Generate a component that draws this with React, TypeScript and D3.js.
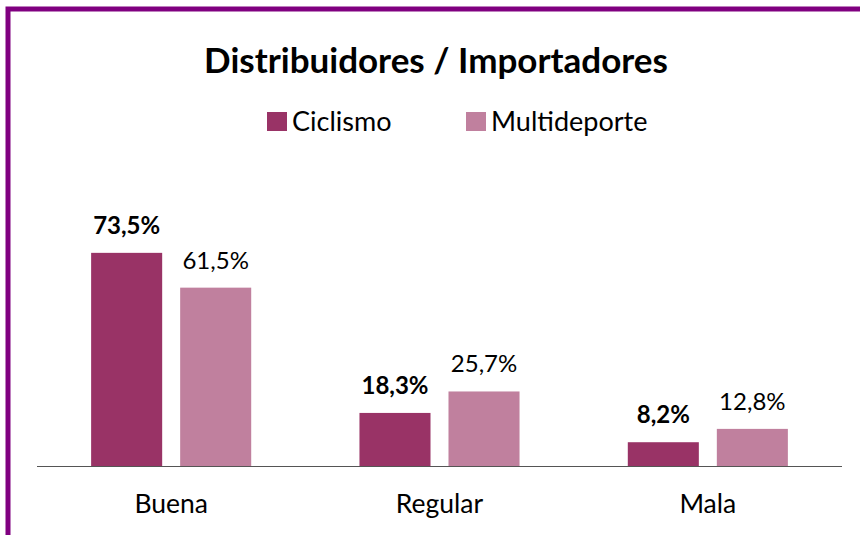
import React from "react";
import * as d3 from "d3";

const categories = ["Buena", "Regular", "Mala"];
const seriesNames = ["Ciclismo", "Multideporte"];
const ciclismo = [73.5, 18.3, 8.2];
const multideporte = [61.5, 25.7, 12.8];
const colors = ["#993366", "#C0809E"];

const W = 860;
const H = 535;
const FONT = "Lato, 'Open Sans', sans-serif";

export default function App() {
  const x0 = d3.scaleBand<string>().domain(categories).range([37, 842]).paddingInner(0).paddingOuter(0);
  const x1 = d3
    .scaleBand<string>()
    .domain(seriesNames)
    .range([0, x0.bandwidth()])
    .paddingInner(0.202)
    .paddingOuter(0.608);
  const y = d3.scaleLinear().domain([0, 100]).range([466, 176]);
  const series = [ciclismo, multideporte];
  const fmt = (v: number) => v.toFixed(1).replace(".", ",") + "%";

  return (
    <svg
      width={W}
      height={H}
      style={{ position: "absolute", left: 0, top: 0, background: "#fff" }}
    >
      <rect x={8} y={9} width={W + 20} height={H + 20} fill="none" stroke="#800080" strokeWidth={5} />
      <text x={436} y={73} textAnchor="middle" fontFamily={FONT} fontWeight={700} fontSize={35} fill="#000">
        Distribuidores / Importadores
      </text>
      {seriesNames.map((s, i) => {
        const lx = i === 0 ? 267 : 466;
        return (
          <g key={s}>
            <rect x={lx} y={112} width={20} height={19} fill={colors[i]} />
            <text x={lx + 25} y={131} fontFamily={FONT} fontSize={27} fill="#000">
              {s}
            </text>
          </g>
        );
      })}
      {categories.map((c, ci) => (
        <g key={c} transform={`translate(${x0(c)},0)`}>
          {seriesNames.map((s, si) => {
            const v = series[si][ci];
            const bx = x1(s)!;
            return (
              <g key={s}>
                <rect x={bx} y={y(v)} width={x1.bandwidth()} height={y(0) - y(v)} fill={colors[si]} />
                <text
                  x={bx + x1.bandwidth() / 2}
                  y={y(v) - 19}
                  textAnchor="middle"
                  fontFamily={FONT}
                  fontWeight={si === 0 ? 700 : 400}
                  fontSize={24}
                  fill="#000"
                >
                  {fmt(v)}
                </text>
              </g>
            );
          })}
          <text
            x={x0.bandwidth() / 2}
            y={513}
            textAnchor="middle"
            fontFamily={FONT}
            fontSize={26.5}
            fill="#000"
          >
            {c}
          </text>
        </g>
      ))}
      <line x1={37} x2={842} y1={466.5} y2={466.5} stroke="#555" strokeWidth={1.2} />
    </svg>
  );
}
